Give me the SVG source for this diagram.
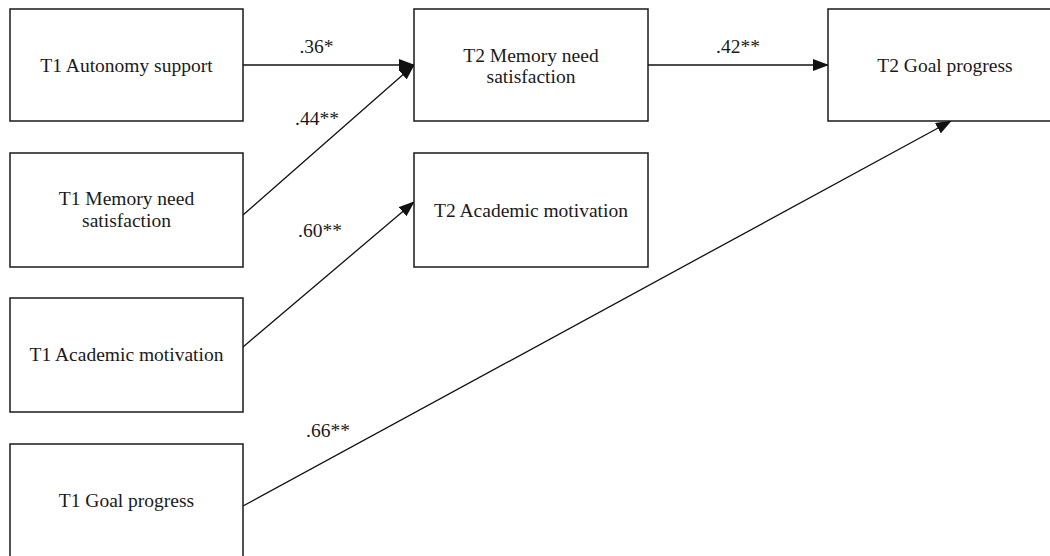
<svg xmlns="http://www.w3.org/2000/svg" width="1050" height="556" viewBox="0 0 1050 556">
<defs>
<style>
.box{fill:#fff;stroke:#1a1a1a;stroke-width:1.5}
.lbl{font-family:"Liberation Serif","Times New Roman",serif;font-size:19.5px;fill:#1a1a1a;text-anchor:middle}
.edge{stroke:#111;stroke-width:1.3;fill:none;marker-end:url(#ah)}
</style>
<marker id="ah" markerUnits="userSpaceOnUse" markerWidth="16" markerHeight="12" viewBox="0 0 16 12" refX="15" refY="6" orient="auto">
<path d="M0,0 L16,6 L0,12 Z" fill="#111"/>
</marker>
</defs>
<rect width="1050" height="556" fill="#fff"/>
<g id="connectors">
<line class="edge" x1="243" y1="65" x2="414" y2="65"/>
<line class="edge" x1="243" y1="215" x2="414" y2="65"/>
<line class="edge" x1="243" y1="347" x2="414" y2="202"/>
<line class="edge" x1="243" y1="506" x2="951" y2="121"/>
<line class="edge" x1="648" y1="65" x2="828" y2="65"/>
<text class="lbl" x="316.5" y="53">.36*</text>
<text class="lbl" x="317" y="125">.44**</text>
<text class="lbl" x="738" y="53">.42**</text>
<text class="lbl" x="320" y="237">.60**</text>
<text class="lbl" x="328" y="437">.66**</text>
</g>
<g id="t1-autonomy">
<rect class="box" x="10" y="9" width="233" height="112"/>
<text class="lbl" x="126.5" y="72">T1 Autonomy support</text>
</g>
<g id="t1-memory">
<rect class="box" x="10" y="153" width="233" height="114"/>
<text class="lbl" x="126.5" y="205">T1 Memory need</text>
<text class="lbl" x="126.5" y="227">satisfaction</text>
</g>
<g id="t1-academic">
<rect class="box" x="10" y="298" width="233" height="114"/>
<text class="lbl" x="126.5" y="361">T1 Academic motivation</text>
</g>
<g id="t1-goal">
<rect class="box" x="10" y="444" width="233" height="114"/>
<text class="lbl" x="126.5" y="507">T1 Goal progress</text>
</g>
<g id="t2-memory">
<rect class="box" x="414" y="9" width="234" height="112"/>
<text class="lbl" x="531" y="62">T2 Memory need</text>
<text class="lbl" x="531" y="83">satisfaction</text>
</g>
<g id="t2-academic">
<rect class="box" x="414" y="153" width="234" height="114"/>
<text class="lbl" x="531" y="217">T2 Academic motivation</text>
</g>
<g id="t2-goal">
<rect class="box" x="828" y="9" width="234" height="112"/>
<text class="lbl" x="945" y="72">T2 Goal progress</text>
</g>
</svg>
